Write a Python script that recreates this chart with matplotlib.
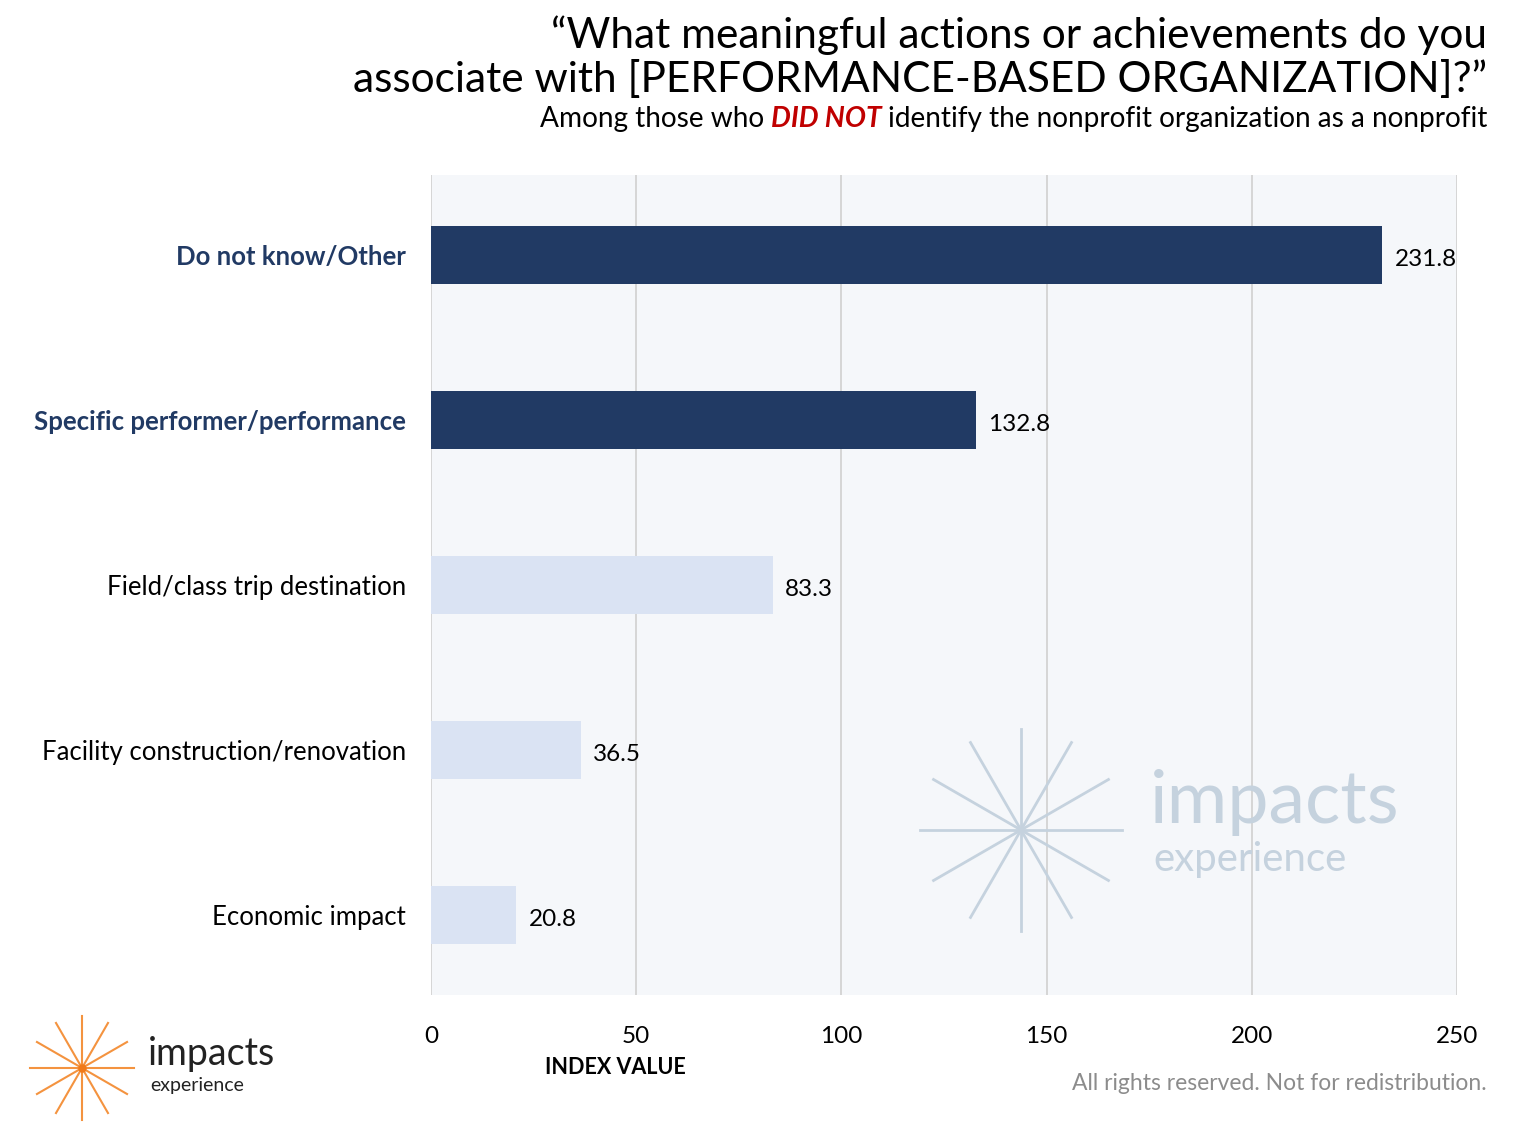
import numpy as np
import matplotlib.pyplot as plt
from matplotlib.lines import Line2D

plt.rcParams['font.family'] = ['Lato', 'DejaVu Sans']

# data
categories = ['Do not know/Other', 'Specific performer/performance', 'Field/class trip destination',
              'Facility construction/renovation', 'Economic impact']
values = [231.8, 132.8, 83.3, 36.5, 20.8]
highlight = [True, True, False, False, False]
x_ticks = [0, 50, 100, 150, 200, 250]

navy = '#213A64'
light = '#DAE3F3'

W, H = 1528, 1146
fig = plt.figure(figsize=(W / 100, H / 100), dpi=100)
fig.patch.set_facecolor('white')

ax = fig.add_axes([431 / W, 1 - 995 / H, (1457 - 431) / W, (995 - 175) / H])
ax.set_facecolor('#F5F7FA')
ypos = np.arange(len(categories))
colors = [navy if h else light for h in highlight]
ax.barh(ypos, values, height=0.35, color=colors, zorder=3)
ax.set_xlim(0, 250)
ax.set_ylim(len(categories) - 1 + 0.485, -0.485)
ax.set_xticks(x_ticks)
ax.set_xticklabels([str(t) for t in x_ticks], fontsize=17.5)
ax.tick_params(axis='x', length=0, pad=22)
ax.set_yticks(ypos)
ax.set_yticklabels(categories, fontsize=18.5)
ax.tick_params(axis='y', length=0, pad=18)
for lab, h in zip(ax.get_yticklabels(), highlight):
    if h:
        lab.set_color(navy)
        lab.set_fontweight('bold')
ax.grid(axis='x', color='#D3D3D3', linewidth=1.3, zorder=1)
for s in ax.spines.values():
    s.set_visible(False)
for y, v in zip(ypos, values):
    ax.text(v + 3, y + 0.03, f'{v:.1f}', va='center', ha='left', fontsize=17.5, zorder=4)

# overlay in pixel coords for logos / text
ov = fig.add_axes([0, 0, 1, 1], facecolor='none')
ov.set_xlim(0, W)
ov.set_ylim(H, 0)
ov.axis('off')


def star(cx, cy, r, color, lw):
    for a in np.arange(0, 180, 30):
        t = np.deg2rad(a)
        dx, dy = r * np.cos(t), r * np.sin(t)
        ov.add_line(Line2D([cx - dx, cx + dx], [cy - dy, cy + dy], color=color, lw=lw))


# watermark
star(1021, 830, 101, '#C5D2DE', 2)
ov.text(1150, 803, 'impacts', fontsize=53, color='#C5D2DE', va='center', ha='left')
ov.text(1153, 860, 'experience', fontsize=29, color='#C5D2DE', va='center', ha='left')

# bottom-left logo
star(82, 1068, 52, '#F4933F', 1.5)
ov.plot([82], [1068], 'o', color='#F07A1A', ms=5)
ov.text(148, 1054, 'impacts', fontsize=27, color='#222222', va='center', ha='left')
ov.text(150, 1085, 'experience', fontsize=14, color='#222222', va='center', ha='left')

# titles
ov.text(1487, 35, '\u201cWhat meaningful actions or achievements do you', fontsize=30.5,
        ha='right', va='center')
ov.text(1487, 80, 'associate with [PERFORMANCE-BASED ORGANIZATION]?\u201d', fontsize=30.5,
        ha='right', va='center')
t3 = ov.text(1487, 119, 'identify the nonprofit organization as a nonprofit', fontsize=20.2,
             ha='right', va='center')
t2 = ov.annotate('DID NOT ', xy=(0, 0.5), xycoords=t3, fontsize=20.2, ha='right', va='center',
                 color='#C00000', fontweight='bold', fontstyle='italic')
ov.annotate('Among those who ', xy=(0, 0.5), xycoords=t2, fontsize=20.2, ha='right', va='center')

ov.text(615, 1068, 'INDEX VALUE', fontsize=15.5, fontweight='bold', ha='center', va='center')
ov.text(1487, 1083, 'All rights reserved. Not for redistribution.', fontsize=16.5,
        color='#8C8C8C', ha='right', va='center')

fig.savefig('out.png', dpi=100)
